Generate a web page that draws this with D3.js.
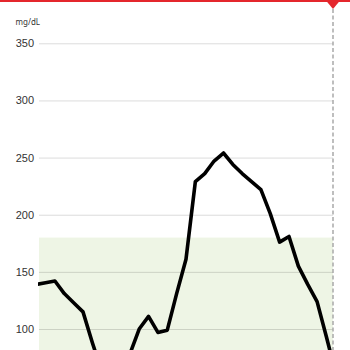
<!DOCTYPE html>
<html>
<head>
<meta charset="utf-8">
<script src="https://cdn.jsdelivr.net/npm/d3@7"></script>
<style>
  html, body { margin: 0; padding: 0; background: #fff; }
  svg { display: block; font-family: "Noto Sans", "Open Sans", sans-serif; }
</style>
</head>
<body>
<svg id="chart" width="350" height="350"></svg>
<script>
// glucose readings, one every 5 minutes, minutes relative to "now"
const minutes = d3.range(-158.5, 2, 5)
const glucose = [139, 140.5, 142, 131, 123, 115, 88, 63, 56, 62, 78,
  100, 111, 97, 99, 131, 161, 229, 236, 247, 254,
  244, 236, 229, 222, 201, 176, 181, 155, 139, 124, 93, 61]
const yTicks = [100, 150, 200, 250, 300, 350]
const targetRange = [70, 180]
const unitLabel = 'mg/dL'

const svgEl = document.getElementById('chart')
const width = +svgEl.getAttribute('width')
const height = +svgEl.getAttribute('height')
const svg = d3.select('#chart')

const left = 39
const right = 333
const red = '#e4262c'

const data = minutes.map((m, i) => ({ t: m, v: glucose[i] }))

const xScale = d3.scaleLinear()
  .domain([-157, 0])
  .range([left, right])

const yScale = d3.scaleLinear()
  .domain([0, 350])
  .range([443.3, 43.3])

// target band
svg.append('rect')
  .attr('x', left)
  .attr('y', yScale(targetRange[1]))
  .attr('width', right - left)
  .attr('height', yScale(targetRange[0]) - yScale(targetRange[1]))
  .attr('fill', '#eef5e5')

// horizontal grid + labels
const yAxis = d3.axisLeft(yScale)
  .tickValues(yTicks)
  .tickSize(-(right - left))
  .tickPadding(5)

const gAxis = svg.append('g')
  .attr('transform', `translate(${left}, 0)`)
  .call(yAxis)

gAxis.select('path.domain').remove()
gAxis.selectAll('.tick line')
  .style('stroke', 'rgba(0,0,0,0.14)')
  .style('stroke-width', 1)
gAxis.selectAll('.tick text')
  .style('font-size', '11px')
  .style('fill', '#333')
  .attr('x', -5)

svg.append('text')
  .attr('x', 15.5)
  .attr('y', 25)
  .style('font-size', '8px')
  .style('fill', '#333')
  .text(unitLabel)

// "now" marker
svg.append('line')
  .attr('x1', xScale(0))
  .attr('x2', xScale(0))
  .attr('y1', 9)
  .attr('y2', height)
  .style('stroke', '#a9a9a9')
  .style('stroke-width', 1.5)
  .style('stroke-dasharray', '4 2.5')

svg.append('clipPath')
  .attr('id', 'plotClip')
  .append('rect')
  .attr('x', left - 1)
  .attr('y', 0)
  .attr('width', width)
  .attr('height', height)

const line = d3.line()
  .x(d => xScale(d.t))
  .y(d => yScale(d.v))

svg.append('path')
  .datum(data)
  .attr('clip-path', 'url(#plotClip)')
  .attr('d', line)
  .attr('fill', 'none')
  .style('stroke', '#000')
  .style('stroke-width', 3.6)
  .style('stroke-linejoin', 'round')

// top bar
svg.append('rect')
  .attr('x', 0)
  .attr('y', 0)
  .attr('width', width)
  .attr('height', 2)
  .attr('fill', red)

svg.append('path')
  .attr('d', `M ${xScale(0) - 7.5} 0 L ${xScale(0) + 7.5} 0 L ${xScale(0)} 9 Z`)
  .attr('fill', red)
</script>
</body>
</html>
